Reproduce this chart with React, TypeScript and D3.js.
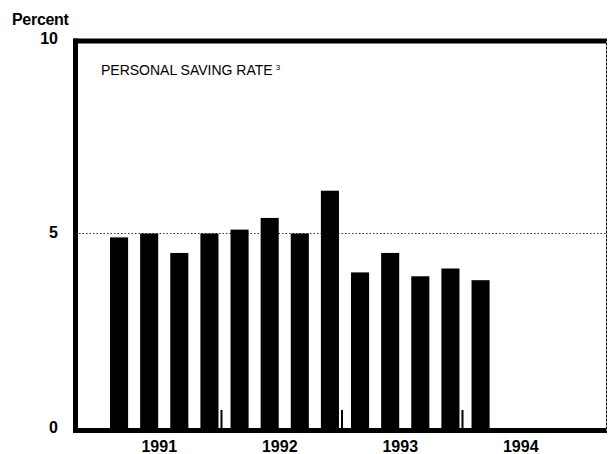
import React, { useEffect, useRef } from 'react';
import { select, scaleBand, scaleLinear } from 'd3';

// quarterly slots 1991:Q1 .. 1994:Q4
const years = ['1991', '1992', '1993', '1994'];
const quarters = years.flatMap(y => ['Q1', 'Q2', 'Q3', 'Q4'].map(q => `${y}${q}`));
const savingRate = [4.9, 5.0, 4.5, 5.0, 5.1, 5.4, 5.0, 6.1, 4.0, 4.5, 3.9, 4.1, 3.8];
const yTicks = [0, 5, 10];

const App = () => {
  const svgRef = useRef<SVGSVGElement>(null);

  useEffect(() => {
    const width = 608;
    const height = 454;
    const left = 75.5, right = 606, top = 41, bottom = 430.5;

    const svg = select(svgRef.current);
    svg.selectAll('*').remove();
    svg.attr('width', width).attr('height', height)
      .style('font-family', '"Liberation Sans", Arial, sans-serif');

    const x = scaleBand<string>()
      .domain(quarters)
      .range([104, 586])
      .paddingInner(0.4)
      .paddingOuter(0.2);

    const y = scaleLinear().domain([0, 10]).range([428, 39]);

    // gridline at 5
    svg.append('line')
      .attr('x1', left).attr('x2', right)
      .attr('y1', y(5)).attr('y2', y(5))
      .attr('stroke', '#333')
      .attr('stroke-width', 1)
      .attr('stroke-dasharray', '1.5,2');

    // bars
    svg.append('g').selectAll('rect')
      .data(savingRate)
      .enter().append('rect')
      .attr('x', (d, i) => x(quarters[i])!)
      .attr('width', x.bandwidth())
      .attr('y', d => y(d))
      .attr('height', d => y(0) - y(d))
      .attr('fill', '#000');

    // year separators
    const step = x.step();
    years.slice(1).forEach(yr => {
      const bx = x(`${yr}Q1`)! - step * 0.3;
      svg.append('line')
        .attr('x1', bx).attr('x2', bx)
        .attr('y1', y(0) - 18).attr('y2', y(0))
        .attr('stroke', '#000')
        .attr('stroke-width', 2);
    });

    // frame
    svg.append('line').attr('x1', 73).attr('x2', right).attr('y1', top).attr('y2', top)
      .attr('stroke', '#000').attr('stroke-width', 5);
    svg.append('line').attr('x1', 73).attr('x2', right).attr('y1', bottom).attr('y2', bottom)
      .attr('stroke', '#000').attr('stroke-width', 5);
    svg.append('line').attr('x1', left).attr('x2', left).attr('y1', 38.5).attr('y2', 433)
      .attr('stroke', '#000').attr('stroke-width', 5);
    svg.append('line').attr('x1', right + 0.5).attr('x2', right + 0.5).attr('y1', 38.5).attr('y2', 433)
      .attr('stroke', '#000').attr('stroke-width', 1).attr('stroke-dasharray', '3,1');

    // y labels
    svg.append('g').selectAll('text')
      .data(yTicks)
      .enter().append('text')
      .attr('x', 58)
      .attr('y', d => y(d) - 1)
      .attr('dy', '0.35em')
      .attr('text-anchor', 'end')
      .style('font-size', '16px')
      .style('font-weight', 'bold')
      .text(d => d);

    svg.append('text')
      .attr('x', 12).attr('y', 25)
      .style('font-size', '16px')
      .style('font-weight', 'bold')
      .style('letter-spacing', '-0.3px')
      .text('Percent');

    // year labels
    svg.append('g').selectAll('text')
      .data(years)
      .enter().append('text')
      .attr('x', d => x(`${d}Q1`)! + (3 * step + x.bandwidth()) / 2 - 5)
      .attr('y', 452)
      .attr('text-anchor', 'middle')
      .style('font-size', '16px')
      .style('font-weight', 'bold')
      .text(d => d);

    // panel title
    const title = svg.append('text')
      .attr('x', 101).attr('y', 75)
      .style('font-size', '14px');
    title.append('tspan').text('PERSONAL SAVING RATE');
    title.append('tspan').attr('dx', 3).attr('dy', -5).style('font-size', '8px').text('3');
  }, []);

  return (
    <div style={{ position: 'absolute', left: 0, top: 0 }}>
      <svg ref={svgRef}></svg>
    </div>
  );
};

export default App;
